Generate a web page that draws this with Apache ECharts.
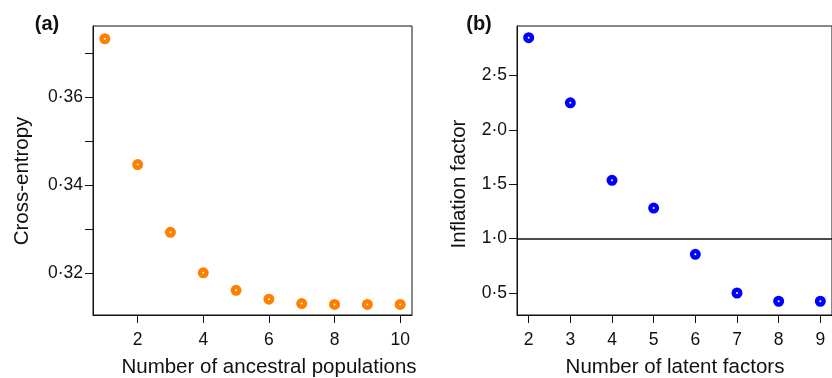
<!DOCTYPE html>
<html>
<head>
<meta charset="utf-8">
<script src="https://cdn.jsdelivr.net/npm/echarts@6/dist/echarts.min.js"></script>
<style>
  html, body { margin: 0; padding: 0; background: #fff; }
  #chart { width: 832px; height: 378px; }
</style>
</head>
<body>
<div id="chart"></div>
<script>
// Panel (a): cross-entropy vs number of ancestral populations
const ancestralK = [1, 2, 3, 4, 5, 6, 7, 8, 9, 10];
const crossEntropy = [0.3732, 0.3446, 0.3292, 0.3200, 0.3160, 0.3140, 0.3130, 0.3128, 0.3128, 0.3128];
const aXTicks = [2, 4, 6, 8, 10];
const aYTicks = [0.32, 0.33, 0.34, 0.35, 0.36, 0.37];
const aYLabels = [0.32, 0.34, 0.36];

// Panel (b): inflation factor vs number of latent factors
const latentK = [2, 3, 4, 5, 6, 7, 8, 9];
const inflation = [2.85, 2.25, 1.537, 1.282, 0.856, 0.50, 0.424, 0.424];
const bXTicks = [2, 3, 4, 5, 6, 7, 8, 9];
const bYTicks = [0.5, 1.0, 1.5, 2.0, 2.5];
const refLine = 1.0;

const FONT = '"Liberation Sans", Arial, sans-serif';
const INK = '#111';

const chart = echarts.init(document.getElementById('chart'), null, { renderer: 'canvas' });

function dotLabel(v, digits) {
  return v.toFixed(digits).replace('.', '\u00B7');
}

function xAxisBase(gridIndex, min, max, ticks) {
  return {
    type: 'value', gridIndex, min, max,
    axisLine: { show: true, onZero: false, lineStyle: { color: INK, width: 1 } },
    axisTick: { show: true, length: 8, customValues: ticks, lineStyle: { color: INK } },
    axisLabel: { customValues: ticks, margin: 16, fontSize: 17.5, color: INK, fontFamily: FONT },
    splitLine: { show: false }
  };
}

function yAxisBase(gridIndex, min, max, ticks, labels, digits) {
  return {
    type: 'value', gridIndex, min, max,
    axisLine: { show: true, onZero: false, lineStyle: { color: INK, width: 1 } },
    axisTick: { show: true, length: 8, customValues: ticks, lineStyle: { color: INK } },
    axisLabel: {
      customValues: labels, margin: 10, fontSize: 17.5, color: INK, fontFamily: FONT,
      formatter: v => dotLabel(v, digits)
    },
    splitLine: { show: false }
  };
}

function pointSeries(xs, ys, color, idx, extra) {
  return Object.assign({
    type: 'scatter',
    xAxisIndex: idx, yAxisIndex: idx,
    data: xs.map((x, i) => [x, ys[i]]),
    symbol: 'circle',
    symbolSize: 6.5,
    itemStyle: { color: '#fff', borderColor: color, borderWidth: 4.5, opacity: 1 },
    silent: true
  }, extra || {});
}

function txt(text, x, y, size, weight, rot) {
  return {
    type: 'text', x, y, rotation: rot || 0, silent: true,
    style: {
      text, fill: INK, align: 'center', verticalAlign: 'middle',
      font: (weight || 'normal') + ' ' + size + 'px ' + FONT
    }
  };
}

chart.setOption({
  backgroundColor: '#fff',
  animation: false,
  grid: [
    { left: 93, top: 26, width: 319, height: 289, show: true, borderColor: INK, borderWidth: 1, backgroundColor: 'transparent' },
    { left: 517, top: 26, width: 317, height: 289, show: true, borderColor: INK, borderWidth: 1, backgroundColor: 'transparent' }
  ],
  xAxis: [
    xAxisBase(0, 0.64, 10.36, aXTicks),
    xAxisBase(1, 1.72, 9.28, bXTicks)
  ],
  yAxis: [
    yAxisBase(0, 0.3104, 0.3761, aYTicks, aYLabels, 2),
    yAxisBase(1, 0.2975, 2.957, bYTicks, bYTicks, 1)
  ],
  series: [
    pointSeries(ancestralK, crossEntropy, '#FF7F00', 0),
    pointSeries(latentK, inflation, '#0000FF', 1, {
      markLine: {
        silent: true, symbol: 'none', animation: false,
        label: { show: false },
        lineStyle: { color: INK, type: 'solid', width: 1.5 },
        data: [{ yAxis: refLine }]
      }
    })
  ],
  graphic: [
    txt('(a)', 47, 24, 20, 'bold'),
    txt('(b)', 479, 24, 20, 'bold'),
    txt('Number of ancestral populations', 269, 367, 20.5),
    txt('Number of latent factors', 675, 367, 20.5),
    txt('Cross-entropy', 22, 181, 20.5, 'normal', Math.PI / 2),
    txt('Inflation factor', 459, 184, 20.5, 'normal', Math.PI / 2)
  ]
});
</script>
</body>
</html>
